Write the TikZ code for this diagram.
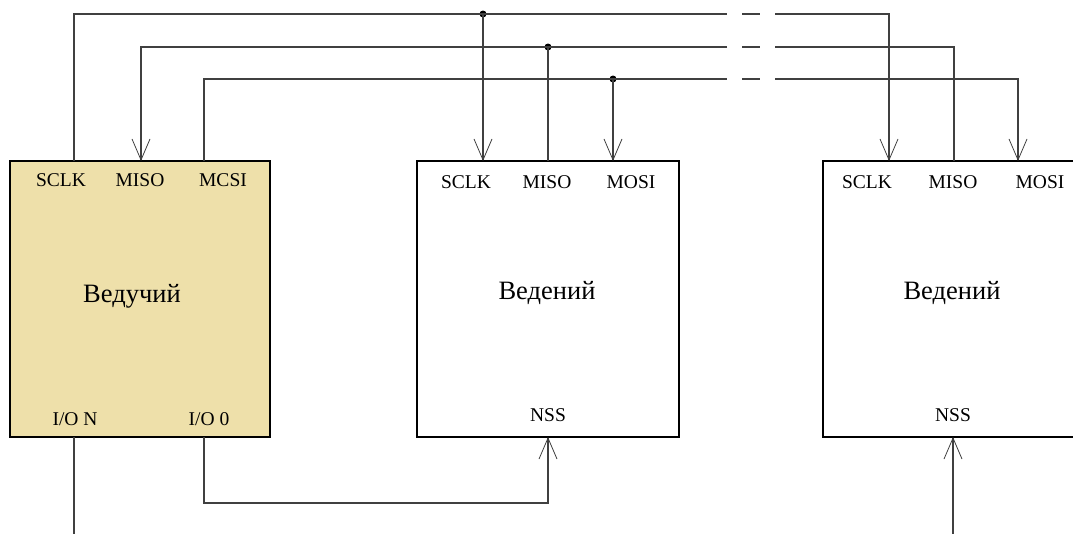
\documentclass[tikz,border=0pt]{standalone}
\usepackage{fontspec}
\setmainfont{Liberation Serif}
\usetikzlibrary{arrows.meta,positioning}

\definecolor{chipfill}{RGB}{238,224,170}
\tikzset{
  chip/.style={draw,line width=1.8pt,minimum width=262pt,minimum height=276pt,inner sep=0pt},
  pin/.style={font=\fontsize{19.5}{21}\selectfont},
  title/.style={font=\fontsize{26.5}{28}\selectfont},
  wire/.style={draw=black!75,line width=1.1pt},
  sig/.style={wire,-{Straight Barb[length=21pt,width=18pt,line width=0.8pt]}},
  tap/.style={circle,fill,inner sep=0pt,minimum size=7pt},
}

\begin{document}
\begin{tikzpicture}[x=1pt,y=-1pt]
  \clip (0,0) rectangle (1073,533);
  % chips
  \node[chip,fill=chipfill,minimum width=260pt] (master) at (140,299) {};
  \node[chip] (slaveA) at (548,299) {};
  \node[chip] (slaveB) at (954,299) {};
  \node[title] (masterName) at (132,296) {Ведучий};
  \node[title] (slaveAName) at (547,293) {Ведений};
  \node[title] (slaveBName) at (952,293) {Ведений};
  % pin labels
  \node[pin] (mSCLKl) at (61,180) {SCLK};
  \node[pin] (mMISOl) at (140,180) {MISO};
  \node[pin] (mMOSIl) at (223,180) {MCSI};
  \node[pin] (mIONl) at (75,419) {I/O N};
  \node[pin] (mIO0l) at (209,419) {I/O 0};
  \node[pin] (aSCLKl) at (466,182) {SCLK};
  \node[pin] (aMISOl) at (547,182) {MISO};
  \node[pin] (aMOSIl) at (631,182) {MOSI};
  \node[pin] (aNSSl) at (548,415) {NSS};
  \node[pin] (bSCLKl) at (867,182) {SCLK};
  \node[pin] (bMISOl) at (953,182) {MISO};
  \node[pin] (bMOSIl) at (1040,182) {MOSI};
  \node[pin] (bNSSl) at (953,415) {NSS};
  % pins on the chip edges
  \coordinate (mSCLK) at (74,161);
  \coordinate (mMISO) at (141,161);
  \coordinate (mMOSI) at (204,161);
  \coordinate (mION) at (74,437);
  \coordinate (mIO0) at (204,437);
  \coordinate (aSCLK) at (483,161);
  \coordinate (aMISO) at (548,161);
  \coordinate (aMOSI) at (613,161);
  \coordinate (aNSS) at (548,437);
  \coordinate (bSCLK) at (889,161);
  \coordinate (bMISO) at (954,161);
  \coordinate (bMOSI) at (1018,161);
  \coordinate (bNSS) at (953,437);
  % bus taps and breaks
  \node[tap] (tSCLK) at (483,14) {};
  \node[tap] (tMISO) at (548,47) {};
  \node[tap] (tMOSI) at (613,79) {};
  \foreach \n/\y in {SCLK/14,MISO/47,MOSI/79}{
    \coordinate (\n e) at (727,\y);
    \coordinate (\n da) at (742,\y);
    \coordinate (\n db) at (760,\y);
    \coordinate (\n s) at (775,\y);
    \draw[wire] (\n da) -- (\n db);
  }
  % SCLK
  \draw[wire] (mSCLK) |- (tSCLK.center) -- (SCLKe);
  \draw[sig] (tSCLK.center) -- (aSCLK);
  \draw[sig] (SCLKs) -| (bSCLK);
  % MISO
  \draw[sig] (MISOe) -| (mMISO);
  \draw[wire] (aMISO) -- (tMISO.center);
  \draw[wire] (MISOs) -| (bMISO);
  % MOSI
  \draw[wire] (mMOSI) |- (MOSIe);
  \draw[sig] (tMOSI.center) -- (aMOSI);
  \draw[sig] (MOSIs) -| (bMOSI);
  % slave select
  \coordinate (nssBend) at (548,503);
  \coordinate (ionEnd) at (74,540);
  \coordinate (nssIn) at (953,540);
  \draw[sig] (mIO0) |- (nssBend) -- (aNSS);
  \draw[wire] (mION) -- (ionEnd);
  \draw[sig] (nssIn) -- (bNSS);
\end{tikzpicture}
\end{document}
